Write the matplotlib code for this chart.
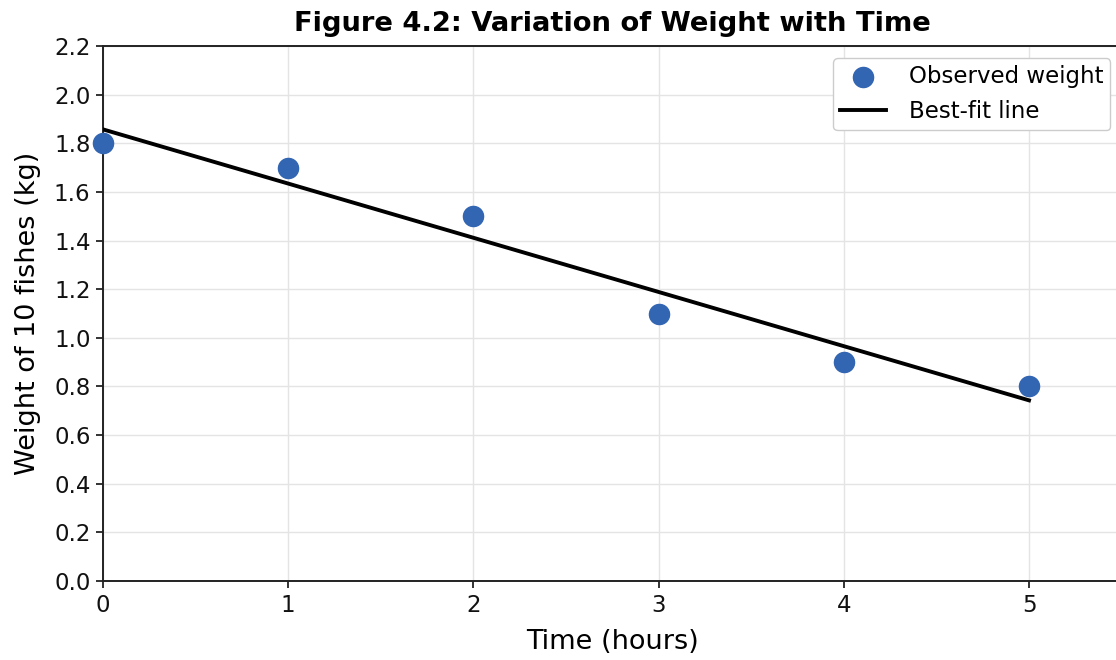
import numpy as np
import matplotlib
matplotlib.use("Agg")
import matplotlib.pyplot as plt

time_hours = [0, 1, 2, 3, 4, 5]
weight_kg = [1.8, 1.7, 1.5, 1.1, 0.9, 0.8]
x_ticks = [0, 1, 2, 3, 4, 5]
y_ticks = [0.0, 0.2, 0.4, 0.6, 0.8, 1.0, 1.2, 1.4, 1.6, 1.8, 2.0, 2.2]

slope, intercept = np.polyfit(time_hours, weight_kg, 1)
fit_x = np.array([time_hours[0], time_hours[-1]])
fit_y = slope * fit_x + intercept

fig = plt.figure(figsize=(11.16, 6.6), dpi=100)
ax = fig.add_axes([103/1116, 79/660, (1121.6-103)/1116, 535/660])

ax.grid(True, color="#e4e4e4", linewidth=1.0, zorder=0)
ax.scatter(time_hours, weight_kg, s=210, color="#3366b2", zorder=3,
           label="Observed weight", clip_on=False)
ax.plot(fit_x, fit_y, color="black", linewidth=2.8, zorder=4, label="Best-fit line")

ax.set_xlim(0, 5.5)
ax.set_ylim(0, 2.2)
ax.set_xticks(x_ticks)
ax.set_yticks(y_ticks)
ax.set_yticklabels([f"{v:.1f}" for v in y_ticks])
ax.tick_params(labelsize=16.5, length=5, width=1.2, colors="#111111", pad=4)
for sp in ax.spines.values():
    sp.set_linewidth(1.4)
    sp.set_color("#222222")

ax.set_xlabel("Time (hours)", fontsize=19.5, labelpad=9)
ax.set_ylabel("Weight of 10 fishes (kg)", fontsize=19.5, labelpad=9)
ax.set_title("Figure 4.2: Variation of Weight with Time", fontsize=19.7,
             fontweight="bold", pad=11)

leg = ax.legend(loc="upper right", bbox_to_anchor=(1.0, 0.999), fontsize=16.5,
                frameon=True, framealpha=1, edgecolor="#cccccc",
                handlelength=2.0, borderpad=0.3, labelspacing=0.55,
                handletextpad=1.0)

fig.savefig("out.png", dpi=100)
